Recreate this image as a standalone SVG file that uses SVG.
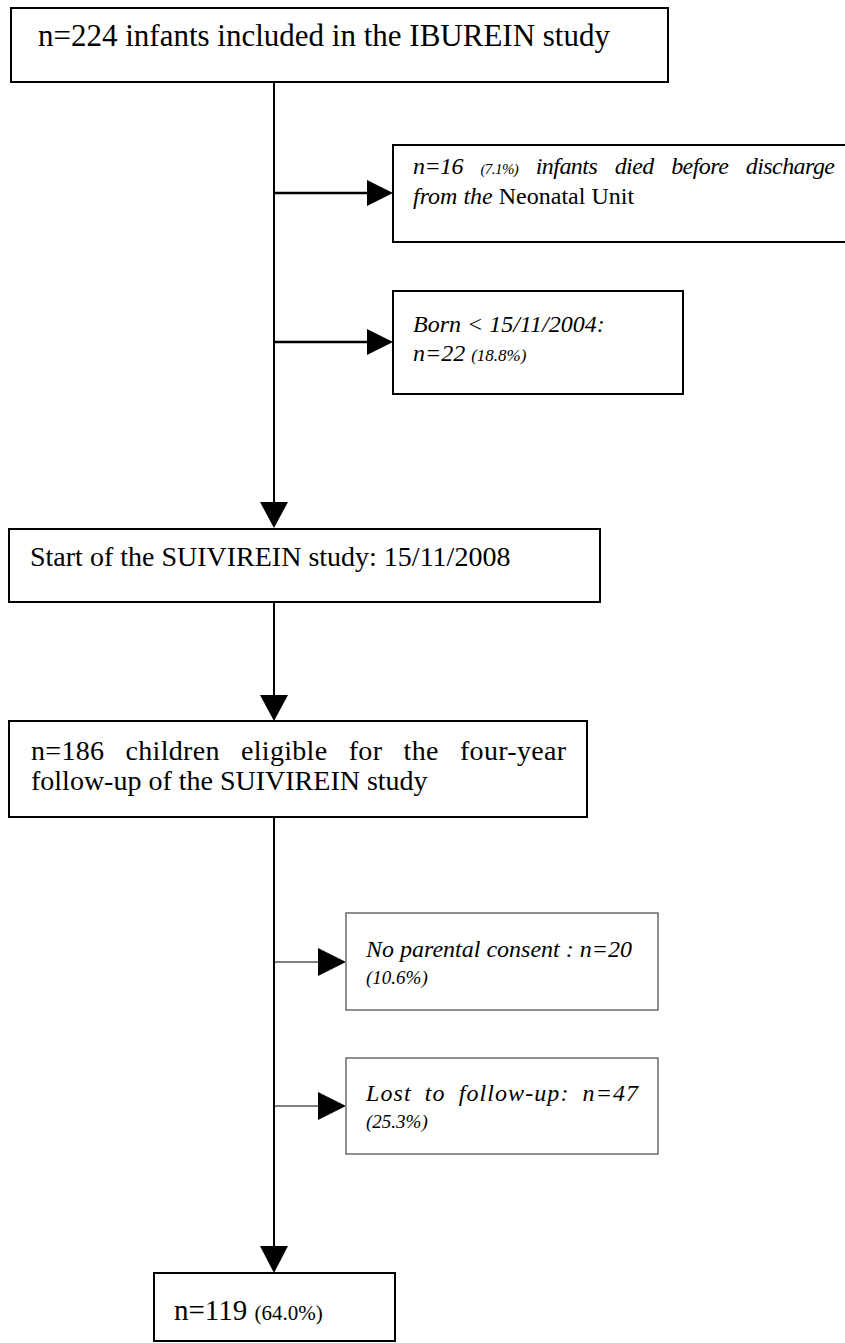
<svg xmlns="http://www.w3.org/2000/svg" width="845" height="1343" viewBox="0 0 845 1343">
<style>
.box{fill:#fff;stroke:#000;stroke-width:2}
.thin{fill:#fff;stroke:#555;stroke-width:1.3}
.t{font-family:"Liberation Serif","Times New Roman",serif;fill:#000}
.m{font-size:28px}
.i{font-size:24px;font-style:italic}
.s{font-size:19px}
.ln{stroke:#000;fill:none}
.ah{fill:#000;stroke:none}
</style>
<rect width="845" height="1343" fill="#fff"/>
<g id="connectors">
<path class="ln" stroke-width="2" d="M274,82 V503"/>
<polygon class="ah" points="260,502 288,502 274,528"/>
<path class="ln" stroke-width="2.5" d="M274,193 H368"/>
<polygon class="ah" points="367,180 367,206 393,193"/>
<path class="ln" stroke-width="2.5" d="M274,342 H368"/>
<polygon class="ah" points="367,329 367,355 393,342"/>
<path class="ln" stroke-width="2" d="M274,602 V696"/>
<polygon class="ah" points="260,695 288,695 274,721"/>
<path class="ln" stroke-width="2" d="M274,817 V1247"/>
<polygon class="ah" points="260,1246 288,1246 274,1273"/>
<path class="ln" stroke-width="1" d="M274,962 H319"/>
<polygon class="ah" points="318,948 318,976 346,962"/>
<path class="ln" stroke-width="1" d="M274,1106 H319"/>
<polygon class="ah" points="318,1092 318,1120 346,1106"/>
</g>
<g id="n1">
<rect class="box" x="11" y="8" width="657" height="74"/>
<text class="t" x="38" y="46" font-size="31">n=224 infants included in the IBUREIN study</text>
</g>
<g id="n2">
<rect class="box" x="393" y="145" width="460" height="97"/>
<text class="t i" x="413" y="174" font-size="22" textLength="422" lengthAdjust="spacing" word-spacing="12">n=16 <tspan font-size="15">(7.1%)</tspan> infants died before discharge</text>
<text class="t i" x="413" y="204" font-size="22">from the <tspan font-style="normal">Neonatal Unit</tspan></text>
</g>
<g id="n3">
<rect class="box" x="393" y="291" width="290" height="103"/>
<text class="t i" x="413" y="332" font-size="26">Born &lt; 15/11/2004:</text>
<text class="t i" x="413" y="361" font-size="26">n=22 <tspan font-size="17">(18.8%)</tspan></text>
</g>
<g id="n4">
<rect class="box" x="9" y="529" width="591" height="73"/>
<text class="t m" x="30" y="566">Start of the SUIVIREIN study: 15/11/2008</text>
</g>
<g id="n5">
<rect class="box" x="9" y="721" width="578" height="96"/>
<text class="t m" x="31" y="760" textLength="535" lengthAdjust="spacing" word-spacing="14">n=186 children eligible for the four-year</text>
<text class="t m" x="31" y="790">follow-up of the SUIVIREIN study</text>
</g>
<g id="n6">
<rect class="thin" x="346" y="913" width="312" height="97"/>
<text class="t i" x="366" y="957" font-size="25">No parental consent : n=20</text>
<text class="t i s" x="366" y="984">(10.6%)</text>
</g>
<g id="n7">
<rect class="thin" x="346" y="1058" width="312" height="96"/>
<text class="t i" x="366" y="1101" font-size="25" textLength="272" lengthAdjust="spacing" word-spacing="6">Lost to follow-up: n=47</text>
<text class="t i s" x="366" y="1128">(25.3%)</text>
</g>
<g id="n8">
<rect class="box" x="154" y="1273" width="241" height="68"/>
<text class="t" x="174" y="1320" font-size="29">n=119 <tspan font-size="21">(64.0%)</tspan></text>
</g>
</svg>
